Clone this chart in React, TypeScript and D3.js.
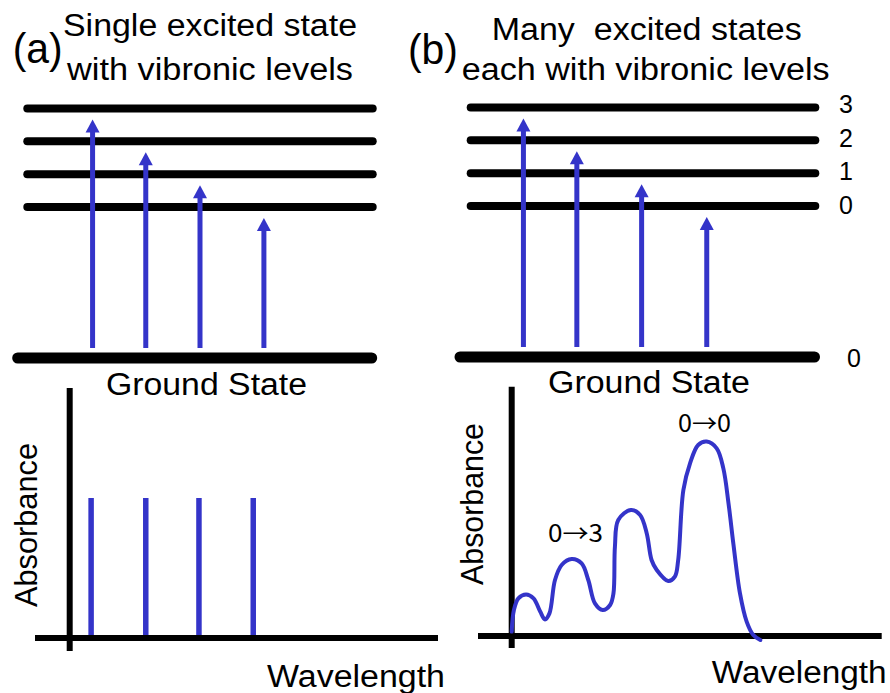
import React from "react";
import * as d3 from "d3";

// ---------- data ----------
const vibLevels = [0, 1, 2, 3]; // excited-state vibrational quantum numbers
const excitedOffset = 4.6; // energy of v=0 above ground (arbitrary units)
const levelLabels = ["0", "1", "2", "3"];
const groundLabel = "0";

// transition positions (diagram units 0..100) and target vibrational level
const transPosA = [18.9, 34.3, 50.0, 68.5];
const transPosB = [15.3, 30.8, 49.6, 68.5];
const transTarget = [3, 2, 1, 0];

// stick spectrum (a)
const stickWavelength = [5.8, 20.6, 35.0, 49.7];
const stickAbsorbance = [70, 70, 70, 70];

// broad spectrum (b)
const curveWavelength = [
  0.0, 0.6, 1.8, 3.9, 5.9, 7.7, 9.0, 10.2, 11.7, 13.5, 16.2, 18.9, 20.7, 22.5,
  24.6, 26.6, 27.5, 27.9, 28.8, 32.2, 34.7, 36.5, 37.8, 39.2, 42.3, 44.1, 45.0,
  46.4, 48.2, 50.4, 52.7, 55.4, 57.2, 58.6, 59.9, 61.7, 63.5, 65.3, 67.2,
];
const curveAbsorbance = [
  2.2, 13, 18.8, 20.8, 18.8, 12.2, 8.3, 11.3, 28, 35.5, 38.5, 36.3, 28, 16.3,
  13, 15.5, 21.3, 44.7, 58, 63, 60.5, 51.3, 38, 33, 27.5, 29.7, 38, 73, 86.3,
  95.5, 97.2, 93.8, 83.8, 66.3, 46.3, 21.3, 7.2, 0.5, -2,
];

const titlesA = ["Single excited state", "with vibronic levels"];
const titlesB = ["Many  excited states", "each with vibronic levels"];
const panelTags = ["(a)", "(b)"];
const groundText = "Ground State";
const yAxisText = "Absorbance";
const xAxisText = "Wavelength";
const peakLabels = ["0\u21920", "0\u21923"];

// ---------- style ----------
const BLUE = "#3434c9";
const FONT = "'Liberation Sans', Arial, Helvetica, sans-serif";
const LABEL_FONT = "'Noto Sans CJK SC', 'Liberation Sans', sans-serif";

function Arrow({ x, y0, y1 }: { x: number; y0: number; y1: number }) {
  const hh = 13;
  const hw = 7;
  return (
    <g>
      <line x1={x} x2={x} y1={y0} y2={y1 + hh - 1} stroke={BLUE} strokeWidth={5} />
      <path d={`M${x},${y1} L${x - hw},${y1 + hh} L${x + hw},${y1 + hh} Z`} fill={BLUE} />
    </g>
  );
}

function EnergyDiagram({
  left, right, groundLeft, groundRight, groundY, topY, transPos, showLabels,
}: {
  left: number; right: number; groundLeft: number; groundRight: number;
  groundY: number; topY: number; transPos: number[]; showLabels: boolean;
}) {
  const yE = d3.scaleLinear().domain([0, excitedOffset + 3]).range([groundY, topY]);
  const xD = d3.scaleLinear().domain([0, 100]).range([left, right]);
  return (
    <g>
      {vibLevels.map((v) => (
        <line key={v} x1={left} x2={right} y1={yE(excitedOffset + v)} y2={yE(excitedOffset + v)}
          stroke="#000" strokeWidth={8} strokeLinecap="round" />
      ))}
      <line x1={groundLeft} x2={groundRight} y1={yE(0)} y2={yE(0)} stroke="#000" strokeWidth={11} strokeLinecap="round" />
      {transPos.map((p, i) => (
        <Arrow key={i} x={xD(p)} y0={yE(0) - 10} y1={yE(excitedOffset + transTarget[i]) + 11} />
      ))}
      {showLabels &&
        vibLevels.map((v, i) => (
          <text key={v} x={839} y={yE(excitedOffset + v) + 7} fontSize={25} fontFamily={FONT}
            dy={v === 3 ? -2 : v === 0 ? 1 : 0}>
            {levelLabels[i]}
          </text>
        ))}
      {showLabels && (
        <text x={847} y={yE(0) + 10} fontSize={25} fontFamily={FONT}>{groundLabel}</text>
      )}
    </g>
  );
}

export default function App() {
  // bottom-left axes
  const xA = d3.scaleLinear().domain([0, 100]).range([69.7, 439]);
  const yA = d3.scaleLinear().domain([0, 100]).range([638, 438]);
  // bottom-right axes
  const xB = d3.scaleLinear().domain([0, 100]).range([511.7, 881.7]);
  const yB = d3.scaleLinear().domain([0, 100]).range([636, 436]);

  const pts: [number, number][] = curveWavelength.map((w, i) => [w, curveAbsorbance[i]]);
  const line = d3
    .line<[number, number]>()
    .x((d) => xB(d[0]))
    .y((d) => yB(d[1]))
    .curve(d3.curveCatmullRom.alpha(0.5));

  return (
    <svg width={890} height={693} style={{ position: "absolute", left: 0, top: 0, background: "#fff" }}>
      <rect width={890} height={693} fill="#fff" />
      {/* titles */}
      <text x={12.7} y={63} fontSize={42} fontFamily={FONT} textLength={50} lengthAdjust="spacingAndGlyphs">{panelTags[0]}</text>
      <text x={408} y={64} fontSize={42} fontFamily={FONT} textLength={50} lengthAdjust="spacingAndGlyphs">{panelTags[1]}</text>
      <text x={63} y={36} fontSize={31} fontFamily={FONT} textLength={294} lengthAdjust="spacingAndGlyphs">{titlesA[0]}</text>
      <text x={67} y={80} fontSize={31} fontFamily={FONT} textLength={286} lengthAdjust="spacingAndGlyphs">{titlesA[1]}</text>
      <text x={491.7} y={40} fontSize={31} fontFamily={FONT} textLength={310} lengthAdjust="spacingAndGlyphs" style={{ whiteSpace: "pre" }}>{titlesB[0]}</text>
      <text x={461.7} y={80} fontSize={31} fontFamily={FONT} textLength={368} lengthAdjust="spacingAndGlyphs">{titlesB[1]}</text>

      {/* energy diagrams */}
      <EnergyDiagram left={27.3} right={372.7} groundLeft={17.7} groundRight={371.7} groundY={358} topY={108.5} transPos={transPosA} showLabels={false} />
      <EnergyDiagram left={470.7} right={815.3} groundLeft={460} groundRight={814.5} groundY={357} topY={107.5} transPos={transPosB} showLabels={true} />

      <text x={106} y={395} fontSize={31} fontFamily={FONT} textLength={201} lengthAdjust="spacingAndGlyphs">{groundText}</text>
      <text x={548} y={393} fontSize={31} fontFamily={FONT} textLength={202} lengthAdjust="spacingAndGlyphs">{groundText}</text>

      {/* bottom-left spectrum */}
      {stickWavelength.map((w, i) => (
        <line key={i} x1={xA(w)} x2={xA(w)} y1={yA(0)} y2={yA(stickAbsorbance[i])} stroke={BLUE} strokeWidth={5.5} />
      ))}
      <line x1={xA(0)} x2={xA(0)} y1={388} y2={651} stroke="#000" strokeWidth={6} />
      <line x1={35} x2={xA(100) - 1} y1={yA(0)} y2={yA(0)} stroke="#000" strokeWidth={6} />
      <text transform={`translate(37,525) rotate(-90)`} textAnchor="middle" fontSize={31} fontFamily={FONT} textLength={164} lengthAdjust="spacingAndGlyphs">{yAxisText}</text>
      <text x={267} y={687} fontSize={31} fontFamily={FONT} textLength={178} lengthAdjust="spacingAndGlyphs">{xAxisText}</text>

      {/* bottom-right spectrum */}
      <line x1={xB(0)} x2={xB(0)} y1={386.7} y2={648} stroke="#000" strokeWidth={6} />
      <line x1={478} x2={xB(100)} y1={yB(0)} y2={yB(0)} stroke="#000" strokeWidth={6} />
      <path d={line(pts) || ""} fill="none" stroke={BLUE} strokeWidth={4} strokeLinejoin="round" strokeLinecap="round" />
      <text transform={`translate(483,504) rotate(-90)`} textAnchor="middle" fontSize={31} fontFamily={FONT} textLength={162} lengthAdjust="spacingAndGlyphs">{yAxisText}</text>
      <text x={711.7} y={683} fontSize={31} fontFamily={FONT} textLength={175} lengthAdjust="spacingAndGlyphs">{xAxisText}</text>
      <text x={678} y={432} fontSize={24} fontFamily={LABEL_FONT} textLength={53} lengthAdjust="spacingAndGlyphs">{peakLabels[0]}</text>
      <text x={548} y={542} fontSize={24} fontFamily={LABEL_FONT} textLength={55} lengthAdjust="spacingAndGlyphs">{peakLabels[1]}</text>
    </svg>
  );
}
